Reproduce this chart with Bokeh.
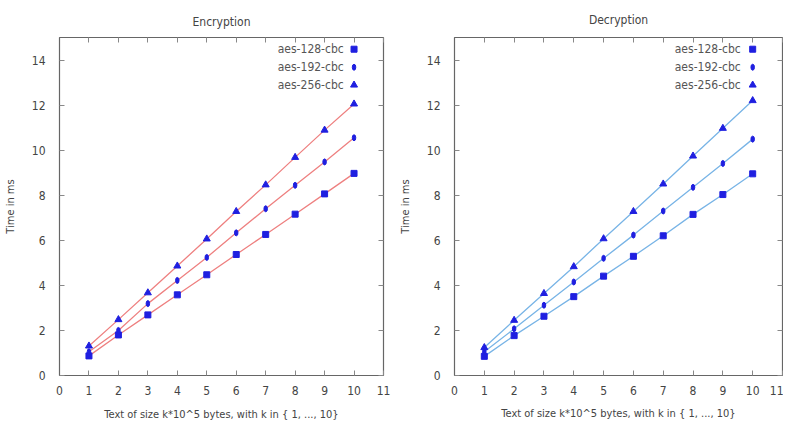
from bokeh.plotting import figure
from bokeh.layouts import row
from bokeh.models import LinearAxis, Label, FixedTicker, Range1d
from bokeh.embed import file_html
from bokeh.resources import INLINE

# ---- data ----
k = [1, 2, 3, 4, 5, 6, 7, 8, 9, 10]
series_names = ["aes-128-cbc", "aes-192-cbc", "aes-256-cbc"]

enc_128 = [0.87, 1.80, 2.69, 3.58, 4.47, 5.37, 6.26, 7.16, 8.06, 8.97]
enc_192 = [1.05, 2.00, 3.19, 4.22, 5.24, 6.33, 7.40, 8.44, 9.48, 10.55]
enc_256 = [1.31, 2.48, 3.67, 4.86, 6.06, 7.28, 8.46, 9.68, 10.89, 12.05]

dec_128 = [0.85, 1.77, 2.63, 3.50, 4.41, 5.29, 6.20, 7.15, 8.03, 8.95]
dec_192 = [1.05, 2.07, 3.12, 4.15, 5.20, 6.23, 7.30, 8.35, 9.41, 10.49]
dec_256 = [1.24, 2.45, 3.64, 4.83, 6.07, 7.28, 8.50, 9.74, 10.97, 12.20]

x_ticks = list(range(0, 12))
y_ticks = list(range(0, 16, 2))

FONT = "'DejaVu Sans Condensed', 'DejaVu Sans', sans-serif"
MARK = "#1f1fe0"
TXT = "#444444"
H = 426


def make(title, data, line_color, width, bl, br, bt, bb, title_standoff, xl_standoff, xa_standoff, label_x):
    p = figure(width=width, height=H, x_range=Range1d(0, 11), y_range=Range1d(0, 15),
               output_backend="svg", toolbar_location=None,
               min_border_left=bl, min_border_right=br, min_border_top=bt, min_border_bottom=bb)
    p.title.text = title
    p.title.align = "center"
    p.title.text_font = FONT
    p.title.text_font_style = "normal"
    p.title.text_font_size = "12px"
    p.title.text_color = TXT
    p.title.standoff = title_standoff
    p.xgrid.visible = False
    p.ygrid.visible = False
    p.outline_line_color = "#666666"
    p.outline_line_width = 1.2

    for ax, ticks in ((p.xaxis[0], x_ticks), (p.yaxis[0], y_ticks)):
        ax.ticker = FixedTicker(ticks=ticks)
        ax.major_tick_in = 5
        ax.major_tick_out = 0
        ax.minor_tick_in = 0
        ax.minor_tick_out = 0
        ax.axis_line_color = "#666666"
        ax.major_tick_line_color = "#888888"
        ax.major_label_text_font = FONT
        ax.major_label_text_font_size = "12px"
        ax.major_label_text_color = TXT
        ax.axis_label_text_font = FONT
        ax.axis_label_text_font_size = "11px"
        ax.axis_label_text_font_style = "normal"
        ax.axis_label_text_color = TXT
    p.xaxis[0].axis_label = "Text of size k*10^5 bytes, with k in { 1, ..., 10}"
    p.yaxis[0].axis_label = "Time in ms"
    p.xaxis[0].major_label_standoff = xl_standoff
    p.xaxis[0].axis_label_standoff = xa_standoff
    p.yaxis[0].major_label_standoff = 14
    p.yaxis[0].axis_label_standoff = 12

    # mirror ticks
    for loc, ticks in (("above", x_ticks), ("right", y_ticks)):
        ax = LinearAxis(ticker=FixedTicker(ticks=ticks))
        ax.major_tick_in = 5
        ax.major_tick_out = 0
        ax.minor_tick_in = 0
        ax.minor_tick_out = 0
        ax.axis_line_color = None
        ax.major_tick_line_color = "#888888"
        ax.major_label_overrides = {t: "" for t in ticks}
        ax.major_label_standoff = 0
        p.add_layout(ax, loc)

    s128, s192, s256 = data
    for vals in (s128, s192, s256):
        p.line(k, vals, line_color=line_color, line_width=1.3)
    p.scatter(k, s128, marker="square", size=6, fill_color=MARK, line_color=MARK)
    p.ellipse(k, s192, width=3.5, height=6, width_units="screen", height_units="screen",
              fill_color=MARK, line_color=MARK)
    p.scatter(k, s256, marker="triangle", size=7, fill_color=MARK, line_color=MARK)

    # key (gnuplot style: text right, sample left-to-right)
    key_y = [14.48, 13.68, 12.89]
    p.scatter([10], [key_y[0]], marker="square", size=6, fill_color=MARK, line_color=MARK)
    p.ellipse([10], [key_y[1]], width=3.5, height=6, width_units="screen", height_units="screen",
              fill_color=MARK, line_color=MARK)
    p.scatter([10], [key_y[2]], marker="triangle", size=7, fill_color=MARK, line_color=MARK)
    for name, yy in zip(series_names, key_y):
        p.add_layout(Label(x=label_x, y=yy, text=name, text_align="right", text_baseline="middle",
                           text_font=FONT, text_font_size="12px", text_color="#555555"))
    return p


p1 = make("Encryption", (enc_128, enc_192, enc_256), "#ee8080", 392, 52, 9, 31, 51, 17, 10, 10, 9.65)
p2 = make("Decryption", (dec_128, dec_192, dec_256), "#78b4e6", 391, 62, 1, 35, 49, 21, 10, 9, 9.6)

layout = row(p1, p2)
open("out.html", "w").write(file_html(layout, INLINE))
